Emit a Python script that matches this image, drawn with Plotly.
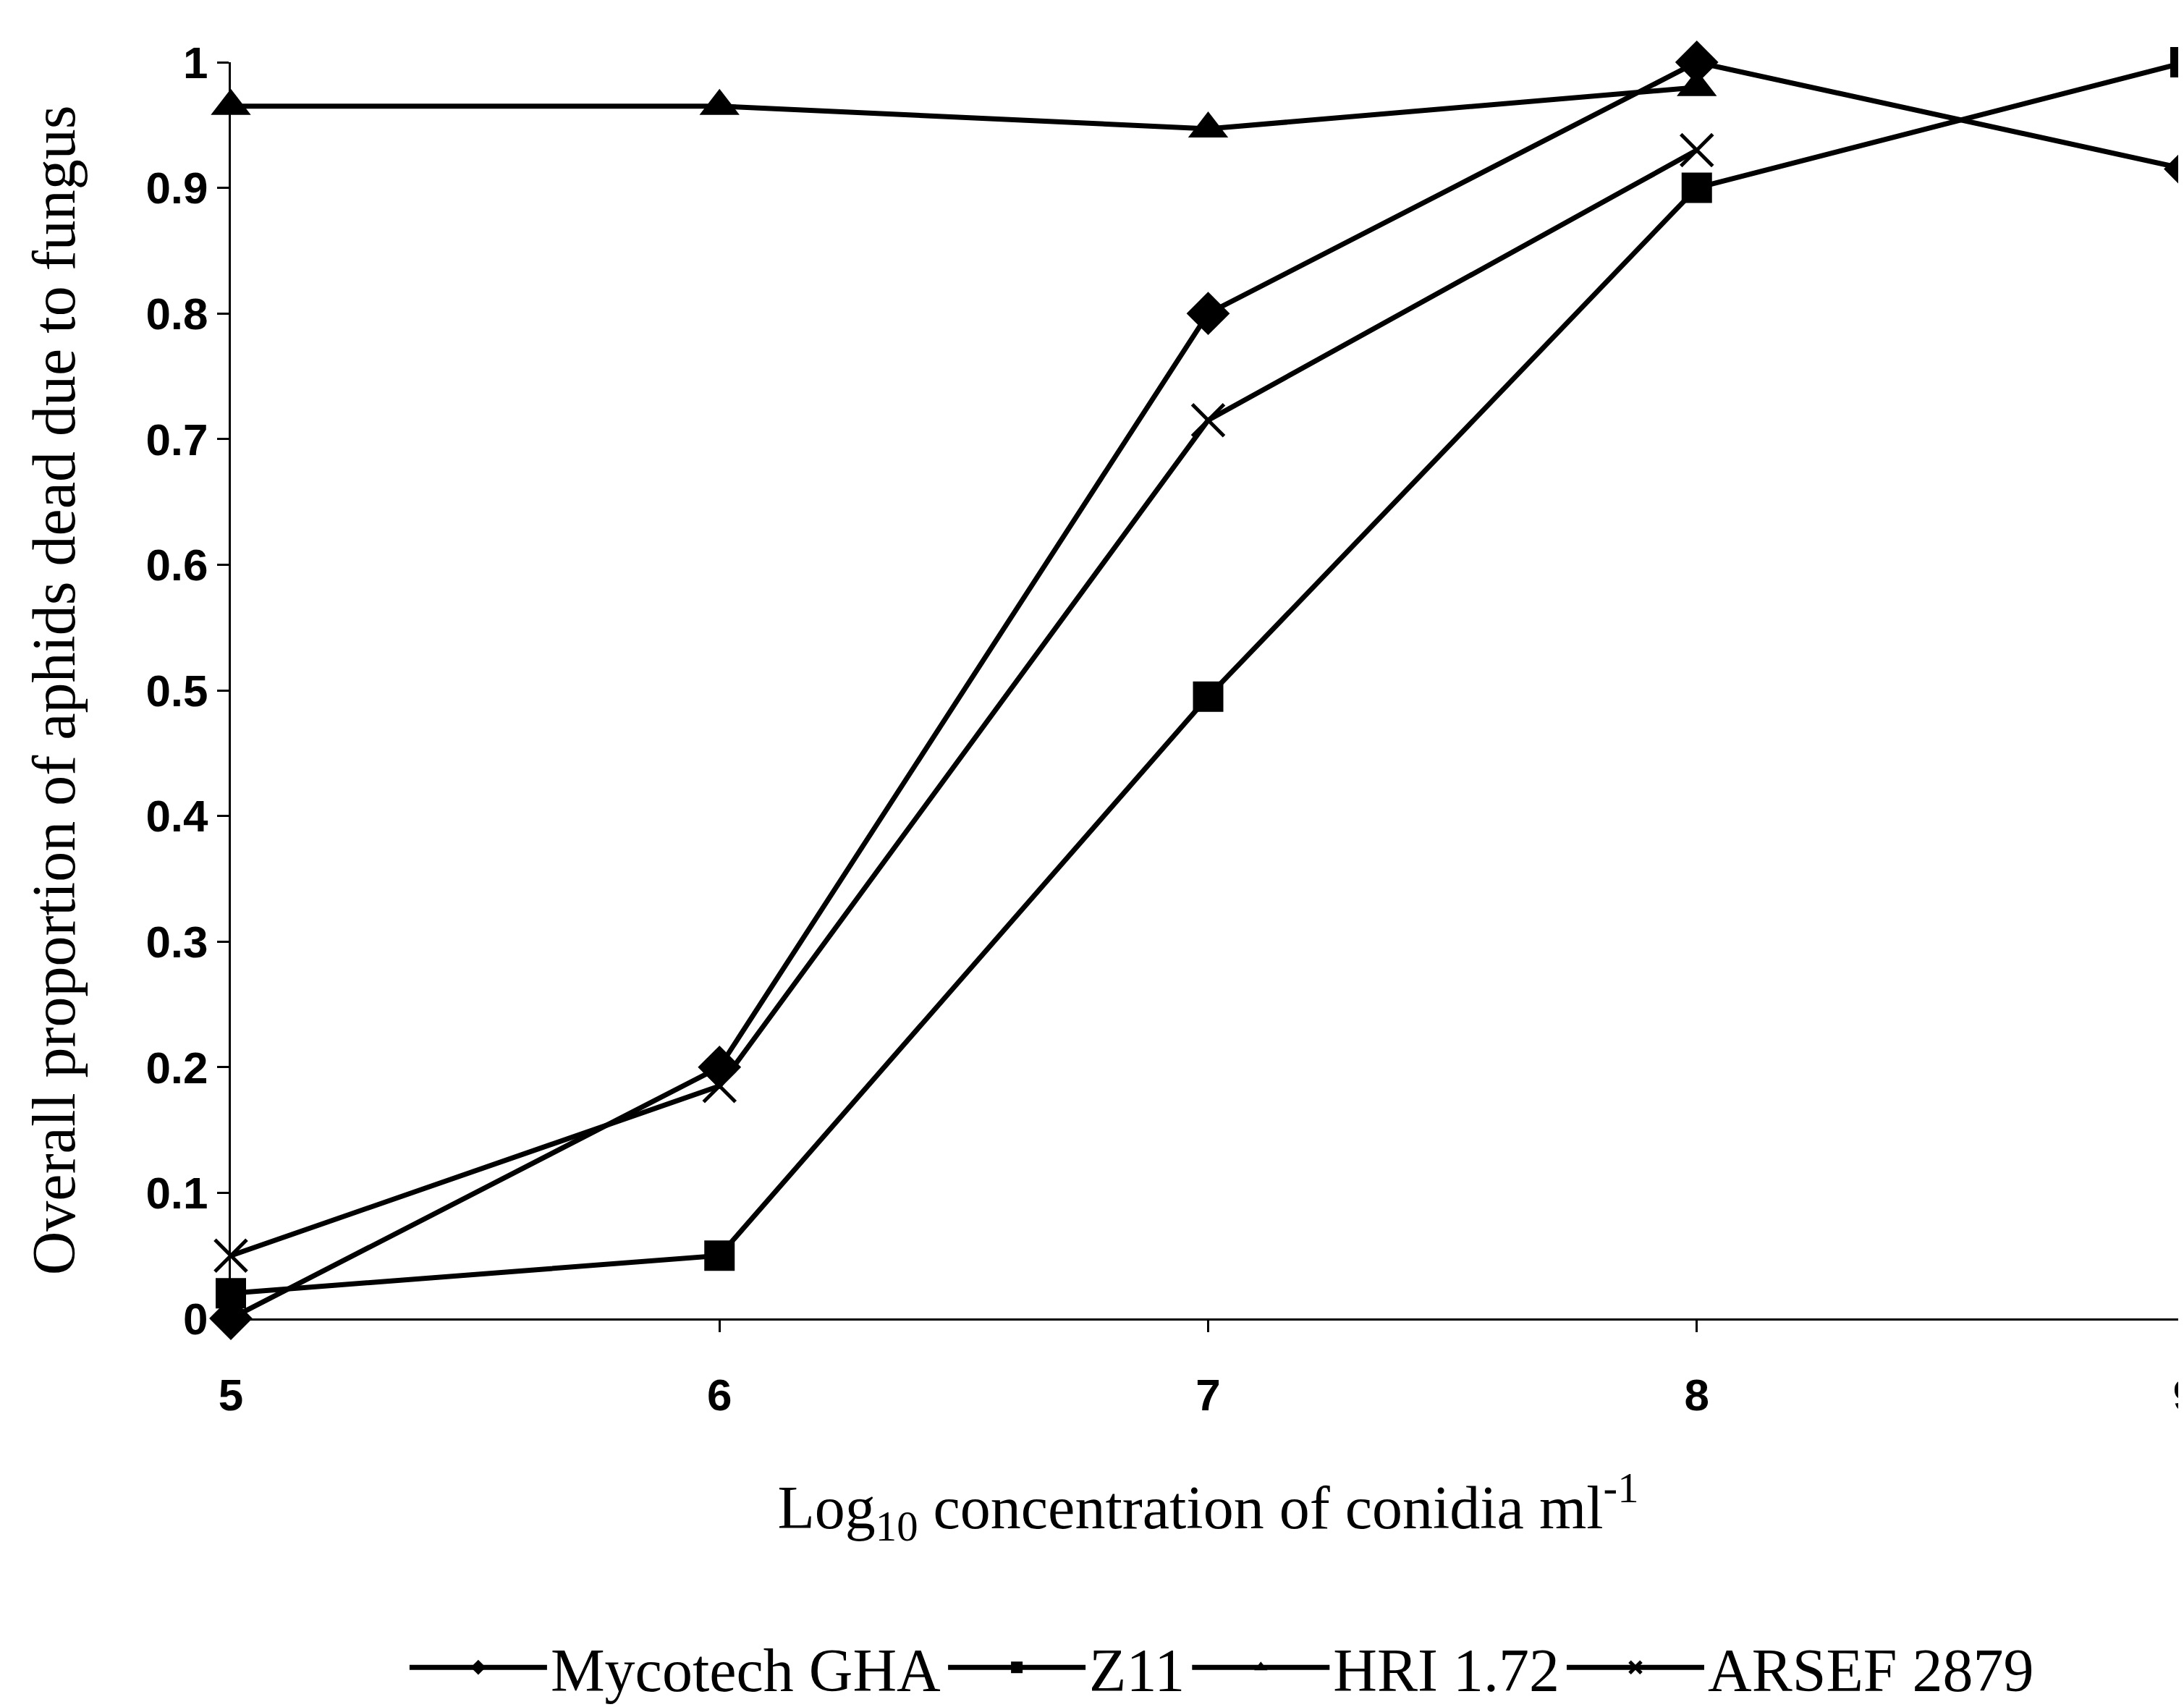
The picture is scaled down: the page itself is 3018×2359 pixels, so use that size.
import plotly.graph_objects as go

x_vals = [5, 6, 7, 8, 9]
mycotech = [0.0, 0.2, 0.8, 1.0, 0.915]
z11 = [0.02, 0.05, 0.495, 0.90, 1.0]
hri = [0.965, 0.965, 0.947, 0.98, None]
arsef = [0.05, 0.185, 0.715, 0.93, None]

series_names = ["Mycotech GHA", "Z11", "HRI 1.72", "ARSEF 2879"]
y_ticks = [0, 0.1, 0.2, 0.3, 0.4, 0.5, 0.6, 0.7, 0.8, 0.9, 1]
y_ticktext = ["0", "0.1", "0.2", "0.3", "0.4", "0.5", "0.6", "0.7", "0.8", "0.9", "1"]
x_ticks = [5, 6, 7, 8, 9]

fig = go.Figure()
specs = [
    (mycotech, "diamond", 46, 0),
    (z11, "square", 42, 0),
    (hri, "triangle-up", 48, 0),
    (arsef, "x-thin-open", 44, 5),
]
for (vals, sym, size, lw), name in zip(specs, series_names):
    fig.add_trace(go.Scatter(
        x=x_vals, y=vals, name=name, mode="lines+markers",
        line=dict(color="black", width=7),
        marker=dict(symbol=sym, size=size, color="black",
                    line=dict(color="black", width=lw)),
        cliponaxis=False,
    ))

fig.update_layout(
    width=3018, height=2359,
    paper_bgcolor="white", plot_bgcolor="white",
    margin=dict(l=311, r=6, t=78, b=545, autoexpand=False),
    showlegend=True,
    legend=dict(orientation="h", x=0.507, xanchor="center", y=-0.278, yanchor="middle",
                font=dict(family="Liberation Serif", size=84, color="black"),
                itemwidth=190, bgcolor="rgba(0,0,0,0)"),
    font=dict(color="black"),
)
fig.update_xaxes(
    range=[5, 9], tickvals=x_ticks, ticks="outside", ticklen=16, tickwidth=3,
    tickcolor="black", showline=True, linecolor="black", linewidth=3,
    showgrid=False, zeroline=False, ticklabeloverflow="allow", ticklabelstandoff=34,
    automargin=False,
    tickfont=dict(family="Liberation Sans", size=62, color="black", weight="bold"),
    title=dict(text="Log<sub>10</sub> concentration of conidia ml<sup>-1</sup>",
               font=dict(family="Liberation Serif", size=84, color="black"), standoff=92),
)
fig.update_yaxes(
    range=[0, 1], tickvals=y_ticks, ticktext=y_ticktext, ticks="outside", ticklen=16,
    tickwidth=3, tickcolor="black", showline=True, linecolor="black", linewidth=3,
    showgrid=False, zeroline=False, automargin=False,
    tickfont=dict(family="Liberation Sans", size=62, color="black", weight="bold"),
    title=dict(text="Overall proportion of aphids dead due to fungus",
               font=dict(family="Liberation Serif", size=84, color="black"), standoff=70),
)

fig.write_html("out.html")
